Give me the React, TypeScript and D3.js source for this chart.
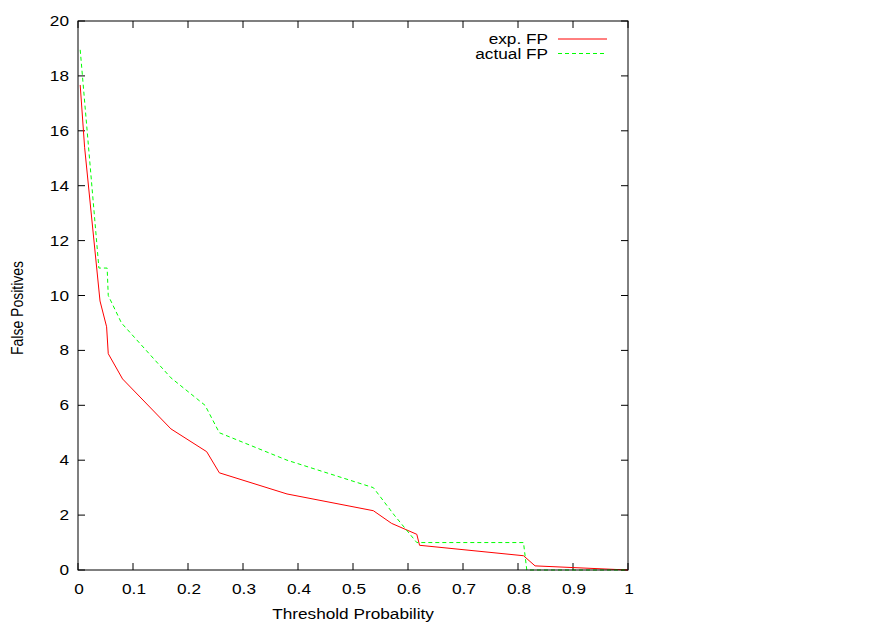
import React from "react";
import * as d3 from "d3";

const expX = [0.004, 0.012, 0.04, 0.052, 0.055, 0.081, 0.169, 0.234, 0.257, 0.38, 0.537, 0.57, 0.616, 0.621, 0.81, 0.831, 1.0];
const expY = [17.67, 15.4, 9.8, 8.86, 7.88, 6.96, 5.14, 4.31, 3.54, 2.77, 2.16, 1.7, 1.3, 0.9, 0.52, 0.15, 0.0];

const actX = [0.004, 0.038, 0.053, 0.055, 0.079, 0.169, 0.231, 0.257, 0.38, 0.537, 0.575, 0.616, 0.81, 0.816, 1.0];
const actY = [18.95, 11.0, 11.0, 10.0, 9.0, 7.0, 6.0, 5.0, 4.0, 3.0, 2.0, 1.0, 1.0, 0.0, 0.0];

const xTicks = [0, 0.1, 0.2, 0.3, 0.4, 0.5, 0.6, 0.7, 0.8, 0.9, 1];
const yTicks = [0, 2, 4, 6, 8, 10, 12, 14, 16, 18, 20];
const seriesNames = ["exp. FP", "actual FP"];
const xLabel = "Threshold Probability";
const yLabel = "False Positives";

const L = 78, R = 628, T = 21, B = 570;
const FS = 14;
const SX = 1.23;
const FONT = "'Liberation Sans', Arial, sans-serif";

function Txt({ x, y, anchor, children, rot }: any) {
  const tr = `translate(${x},${y}) scale(${SX},1)` + (rot ? ` rotate(${rot})` : "");
  return (
    <text transform={tr} textAnchor={anchor} fontFamily={FONT} fontSize={FS} fill="#000">
      {children}
    </text>
  );
}

export default function App() {
  const x = d3.scaleLinear().domain([0, 1]).range([L, R]);
  const y = d3.scaleLinear().domain([0, 20]).range([B, T]);
  const line = d3.line<[number, number]>().x((d) => x(d[0])).y((d) => y(d[1]));
  const expPts = expX.map((v, i) => [v, expY[i]] as [number, number]);
  const actPts = actX.map((v, i) => [v, actY[i]] as [number, number]);
  const tl = 7;
  return (
    <svg width={890} height={623} style={{ position: "absolute", left: 0, top: 0, background: "#fff" }}>
      <rect x={0} y={0} width={890} height={623} fill="#fff" />
      {xTicks.map((t) => (
        <g key={"x" + t}>
          <line x1={x(t)} x2={x(t)} y1={B} y2={B - tl} stroke="#000" />
          <line x1={x(t)} x2={x(t)} y1={T} y2={T + tl} stroke="#000" />
          <Txt x={x(t) + 1} y={594} anchor="middle">{String(t)}</Txt>
        </g>
      ))}
      {yTicks.map((t) => (
        <g key={"y" + t}>
          <line x1={L} x2={L + tl} y1={y(t)} y2={y(t)} stroke="#000" />
          <line x1={R} x2={R - tl} y1={y(t)} y2={y(t)} stroke="#000" />
          <Txt x={69} y={y(t) + 5} anchor="end">{String(t)}</Txt>
        </g>
      ))}
      <path d={line(expPts) || ""} fill="none" stroke="#ff0000" strokeWidth={1} />
      <path d={line(actPts) || ""} fill="none" stroke="#00ff00" strokeWidth={1} strokeDasharray="4,3" />
      <rect x={L} y={T} width={R - L} height={B - T} fill="none" stroke="#000" strokeWidth={1} />
      <Txt x={548} y={44} anchor="end">{seriesNames[0]}</Txt>
      <line x1={558} x2={607} y1={39} y2={39} stroke="#ff0000" />
      <Txt x={548} y={58.5} anchor="end">{seriesNames[1]}</Txt>
      <line x1={558} x2={607} y1={53.5} y2={53.5} stroke="#00ff00" strokeDasharray="4,3" />
      <Txt x={353} y={619} anchor="middle">{xLabel}</Txt>
      <Txt x={23} y={308} anchor="middle" rot={-90}>{yLabel}</Txt>
    </svg>
  );
}
